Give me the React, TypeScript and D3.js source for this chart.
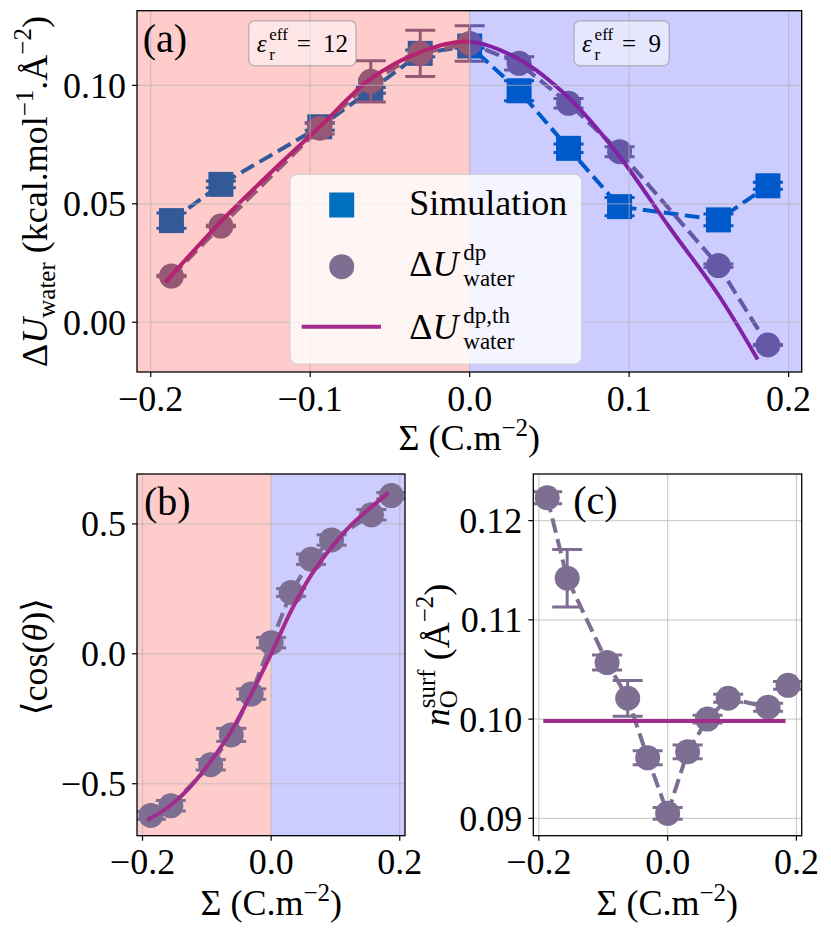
import React from "react";
import * as d3 from "d3";

// surface charge density Σ (C.m^-2), shared by the three panels
const sigma = [-0.187, -0.156, -0.094, -0.062, -0.031, 0, 0.031, 0.062, 0.094, 0.156, 0.187];

// (a) water energy (kcal.mol^-1.Å^-2)
const simU = [0.0429, 0.0582, 0.0825, 0.0979, 0.1135, 0.1166, 0.0977, 0.0734, 0.0488, 0.0432, 0.0576];
const simUErr = [0.0032, 0.0014, 0.0015, 0.0012, 0.0014, 0.001, 0.0042, 0.0018, 0.0039, 0.0025, 0.0015];
const dpU = [0.0195, 0.0406, 0.0819, 0.1017, 0.1135, 0.1177, 0.1093, 0.0924, 0.072, 0.0239, -0.0096];
const dpUErr = [0.0003, 0.0003, 0.0024, 0.0087, 0.0098, 0.0075, 0.0028, 0.002, 0.0021, 0.0007, 0.0002];

// theory curves
const thSigma = [-0.19, -0.156, -0.125, -0.094, -0.0625, -0.031, 0, 0.031, 0.0625, 0.094, 0.125, 0.156, 0.18];
const thU = [0.0175, 0.0425, 0.063, 0.0825, 0.1025, 0.114, 0.1184, 0.111, 0.0945, 0.07, 0.0403, 0.0115, -0.015];

// (b) mean dipole orientation
const cosT = [-0.622, -0.585, -0.427, -0.312, -0.155, 0.043, 0.236, 0.364, 0.438, 0.535, 0.609];
const cosTErr = [0.015, 0.02, 0.02, 0.025, 0.02, 0.02, 0.015, 0.02, 0.02, 0.02, 0.012];
const thCos = [-0.636, -0.583, -0.51, -0.414, -0.3, -0.155, 0.0, 0.165, 0.304, 0.41, 0.497, 0.565, 0.615];

// (c) surface oxygen density (Å^-2)
const nO = [0.1223, 0.1142, 0.1057, 0.1021, 0.0961, 0.0905, 0.0967, 0.1, 0.1021, 0.1012, 0.1034];
const nOErr = [0.0006, 0.0029, 0.00075, 0.0018, 0.0007, 0.0006, 0.0007, 0.0004, 0.0004, 0.0004, 0.0004];
const thNSigma = [-0.19, 0.18];
const thN = [0.0998, 0.0998];

const xTicksA = [-0.2, -0.1, 0, 0.1, 0.2];
const xTicksBC = [-0.2, 0, 0.2];
const yTicksA = [0, 0.05, 0.1];
const yTicksB = [-0.5, 0, 0.5];
const yTicksC = [0.09, 0.1, 0.11, 0.12];

const FONT = "'Liberation Serif', 'DejaVu Serif', serif";
const SIM = "#0070be";
const DP = "#7d6e92";
const TH = "#a22b8e";
const GRID = "rgba(176,176,176,0.6)";

type Sc = d3.ScaleLinear<number, number>;

const xDomain = [-0.2086, 0.2082];
const xa = d3.scaleLinear().domain(xDomain).range([137, 801.7]);
const ya = d3.scaleLinear().domain([-0.021, 0.1315]).range([372, 10.7]);
const xb = d3.scaleLinear().domain(xDomain).range([137, 405]);
const yb = d3.scaleLinear().domain([-0.7, 0.692]).range([835.7, 474]);
const xc = d3.scaleLinear().domain(xDomain).range([533.3, 801.7]);
const yc = d3.scaleLinear().domain([0.08825, 0.1247]).range([835.7, 474]);

const f1 = d3.format(".1f");
const f2 = d3.format(".2f");

const Grid = ({ x, y, xt, yt }: { x: Sc; y: Sc; xt: number[]; yt: number[] }) => {
  const [l, r] = x.range();
  const [b, t] = y.range();
  return (
    <g stroke={GRID} strokeWidth={1.2}>
      {xt.map((v) => (
        <line key={"x" + v} x1={x(v)} x2={x(v)} y1={b} y2={t} />
      ))}
      {yt.map((v) => (
        <line key={"y" + v} x1={l} x2={r} y1={y(v)} y2={y(v)} />
      ))}
    </g>
  );
};

const Frame = ({
  x, y, xt, yt, xf, yf,
}: { x: Sc; y: Sc; xt: number[]; yt: number[]; xf: (v: number) => string; yf: (v: number) => string }) => {
  const [l, r] = x.range();
  const [b, t] = y.range();
  return (
    <g>
      <rect x={l} y={t} width={r - l} height={b - t} fill="none" stroke="#000" strokeWidth={1.3} />
      {xt.map((v) => (
        <g key={"x" + v}>
          <line x1={x(v)} x2={x(v)} y1={b} y2={b + 5} stroke="#000" strokeWidth={1.2} />
          <text x={x(v)} y={b + 38.5} textAnchor="middle" fontSize={36}>
            {xf(v)}
          </text>
        </g>
      ))}
      {yt.map((v) => (
        <g key={"y" + v}>
          <line x1={l - 5} x2={l} y1={y(v)} y2={y(v)} stroke="#000" strokeWidth={1.2} />
          <text x={l - 11} y={y(v)} dy="0.35em" textAnchor="end" fontSize={36}>
            {yf(v)}
          </text>
        </g>
      ))}
    </g>
  );
};

const Series = ({
  xs, ys, errs, x, y, color, shape,
}: { xs: number[]; ys: number[]; errs: number[]; x: Sc; y: Sc; color: string; shape: "square" | "circle" }) => {
  const line = d3.line<number>().x((_, i) => x(xs[i])).y((d) => y(d));
  return (
    <g>
      <path d={line(ys) || ""} fill="none" stroke={color} strokeWidth={4} strokeDasharray="14.8 6.4" />
      {ys.map((v, i) =>
        shape === "square" ? (
          <rect key={i} x={x(xs[i]) - 12.5} y={y(v) - 12.5} width={25} height={25} fill={color} />
        ) : (
          <circle key={i} cx={x(xs[i])} cy={y(v)} r={12.5} fill={color} />
        )
      )}
      {ys.map((v, i) => {
        const cx = x(xs[i]);
        const lo = y(v - errs[i]);
        const hi = y(v + errs[i]);
        return (
          <g key={"e" + i} stroke={color} strokeWidth={3}>
            <line x1={cx} x2={cx} y1={lo} y2={hi} />
            <line x1={cx - 15} x2={cx + 15} y1={lo} y2={lo} />
            <line x1={cx - 15} x2={cx + 15} y1={hi} y2={hi} />
          </g>
        );
      })}
    </g>
  );
};

const Theory = ({
  xs, ys, x, y, curve = d3.curveCatmullRom,
}: { xs: number[]; ys: number[]; x: Sc; y: Sc; curve?: d3.CurveFactory }) => {
  const line = d3
    .line<number>()
    .x((_, i) => x(xs[i]))
    .y((d) => y(d))
    .curve(curve);
  return <path d={line(ys) || ""} fill="none" stroke={TH} strokeWidth={4} strokeLinecap="square" />;
};

const Spans = ({ x, y }: { x: Sc; y: Sc }) => {
  const [l, r] = x.range();
  const [b, t] = y.range();
  return (
    <g>
      <rect x={l} y={t} width={x(0) - l} height={b - t} fill="rgba(255,0,0,0.2)" />
      <rect x={x(0)} y={t} width={r - x(0)} height={b - t} fill="rgba(0,0,255,0.2)" />
    </g>
  );
};

const Clip = ({ id, x, y }: { id: string; x: Sc; y: Sc }) => {
  const [l, r] = x.range();
  const [b, t] = y.range();
  return (
    <clipPath id={id}>
      <rect x={l} y={t} width={r - l} height={b - t} />
    </clipPath>
  );
};

// ε_r^eff = value, scripts stacked like LaTeX
const EpsBox = ({ x0, w, value, valueX }: { x0: number; w: number; value: string; valueX: number }) => (
  <g>
    <rect x={x0} y={20.7} width={w} height={45} rx={6} fill="#fff" fillOpacity={0.5} stroke="#999" strokeOpacity={0.6} strokeWidth={1.5} />
    <text fontSize={25}>
      <tspan x={x0 + 8} y={52} fontStyle="italic">ε</tspan>
      <tspan x={x0 + 20.6} y={40} fontSize={17}>eff</tspan>
      <tspan x={x0 + 20.6} y={60} fontSize={17}>r</tspan>
      <tspan x={x0 + 48} y={52}>=</tspan>
      <tspan x={valueX} y={52}>{value}</tspan>
    </text>
  </g>
);

const DeltaU = ({ x0, y0, sup }: { x0: number; y0: number; sup: string }) => (
  <text fontSize={36}>
    <tspan x={x0} y={y0}>Δ</tspan>
    <tspan fontStyle="italic">U</tspan>
    <tspan x={x0 + 54} y={y0 - 16} fontSize={23}>{sup}</tspan>
    <tspan x={x0 + 54} y={y0 + 10} fontSize={23}>water</tspan>
  </text>
);

const SigmaLabel = ({ cx, y0 }: { cx: number; y0: number }) => (
  <text x={cx} y={y0} textAnchor="middle" fontSize={36}>
    Σ (C.m<tspan fontSize={25} dy={-14}>−2</tspan>
    <tspan dy={14}>)</tspan>
  </text>
);

export default function App() {
  return (
    <svg
      width={831}
      height={935}
      style={{ position: "absolute", left: 0, top: 0, background: "#fff", fontFamily: FONT }}
    >
      <defs>
        <Clip id="clipA" x={xa} y={ya} />
        <Clip id="clipB" x={xb} y={yb} />
        <Clip id="clipC" x={xc} y={yc} />
      </defs>
      <rect width={831} height={935} fill="#fff" />

      {/* (a) */}
      <g clipPath="url(#clipA)">
        <Series xs={sigma} ys={simU} errs={simUErr} x={xa} y={ya} color={SIM} shape="square" />
        <Series xs={sigma} ys={dpU} errs={dpUErr} x={xa} y={ya} color={DP} shape="circle" />
        <Theory xs={thSigma} ys={thU} x={xa} y={ya} />
        <Spans x={xa} y={ya} />
        <Grid x={xa} y={ya} xt={xTicksA} yt={yTicksA} />
      </g>
      <EpsBox x0={248.7} w={107.3} value="12" valueX={323} />
      <EpsBox x0={574} w={95.3} value="9" valueX={648.5} />
      <g>
        <rect x={290} y={174.3} width={291.7} height={189.7} rx={7} fill="#fff" fillOpacity={0.8} stroke="#ccc" strokeOpacity={0.8} strokeWidth={1.2} />
        <rect x={341.7 - 12.5} y={205 - 12.5} width={25} height={25} fill={SIM} />
        <circle cx={341.7} cy={266.7} r={12.5} fill={DP} />
        <line x1={301.7} x2={381} y1={326.7} y2={326.7} stroke={TH} strokeWidth={4} />
        <text x={409.3} y={215} fontSize={36}>Simulation</text>
        <DeltaU x0={409.3} y0={276} sup="dp" />
        <DeltaU x0={409.3} y0={339.3} sup="dp,th" />
      </g>
      <Frame x={xa} y={ya} xt={xTicksA} yt={yTicksA} xf={f1} yf={f2} />
      <text x={142.7} y={52} fontSize={40}>(a)</text>
      <SigmaLabel cx={469.3} y0={450} />
      <text transform="translate(47,191.5) rotate(-90)" textAnchor="middle" fontSize={36}>
        Δ<tspan fontStyle="italic">U</tspan>
        <tspan fontSize={25} dy={8}>water</tspan>
        <tspan dy={-8}>{"\u00a0(kcal.mol"}</tspan>
        <tspan fontSize={25} dy={-14}>−1</tspan>
        <tspan dy={14}>.Å</tspan>
        <tspan fontSize={25} dy={-16}>−2</tspan>
        <tspan dy={16}>)</tspan>
      </text>

      {/* (b) */}
      <Spans x={xb} y={yb} />
      <Grid x={xb} y={yb} xt={xTicksBC} yt={yTicksB} />
      <g clipPath="url(#clipB)">
        <Series xs={sigma} ys={cosT} errs={cosTErr} x={xb} y={yb} color={DP} shape="circle" />
        <Theory xs={thSigma} ys={thCos} x={xb} y={yb} curve={d3.curveMonotoneX} />
      </g>
      <Frame x={xb} y={yb} xt={xTicksBC} yt={yTicksB} xf={f1} yf={f1} />
      <text x={144} y={514.7} fontSize={40}>(b)</text>
      <SigmaLabel cx={271.3} y0={915} />
      <text transform="translate(47,656.7) rotate(-90)" textAnchor="middle" fontSize={36}>
        ⟨cos(<tspan fontStyle="italic">θ</tspan>)⟩
      </text>

      {/* (c) */}
      <Grid x={xc} y={yc} xt={xTicksBC} yt={yTicksC} />
      <g clipPath="url(#clipC)">
        <Series xs={sigma} ys={nO} errs={nOErr} x={xc} y={yc} color={DP} shape="circle" />
        <Theory xs={thNSigma} ys={thN} x={xc} y={yc} />
      </g>
      <Frame x={xc} y={yc} xt={xTicksBC} yt={yTicksC} xf={f1} yf={f2} />
      <text x={573.3} y={514} fontSize={40}>(c)</text>
      <SigmaLabel cx={667.3} y0={915} />
      <text transform="translate(449,655) rotate(-90)" textAnchor="middle" fontSize={36}>
        <tspan fontStyle="italic">n</tspan>
        <tspan fontSize={25} dy={8}>O</tspan>
        <tspan fontSize={25} dx={-18} dy={-22}>surf</tspan>
        <tspan dy={14}>{"\u00a0(Å"}</tspan>
        <tspan fontSize={25} dy={-16}>−2</tspan>
        <tspan dy={16}>)</tspan>
      </text>
    </svg>
  );
}
